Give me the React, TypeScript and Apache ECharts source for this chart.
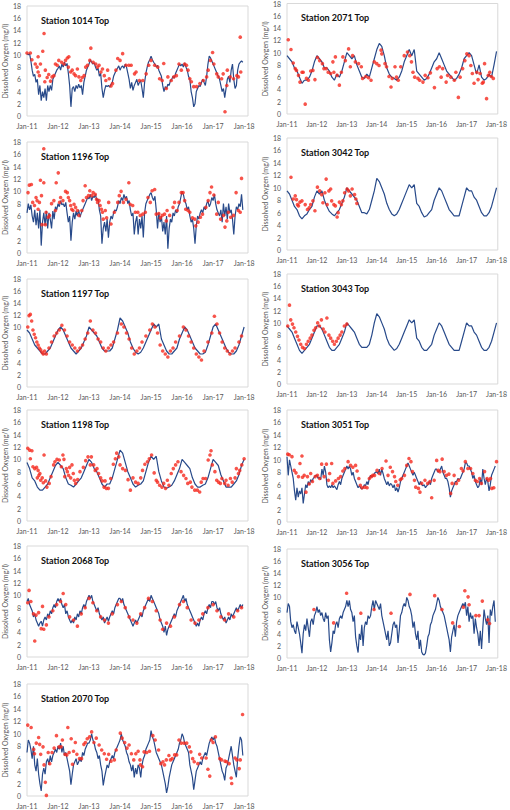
import React, { useEffect, useRef } from 'react';
import * as echarts from 'echarts';

// ---- Line series (semi-monthly: step 0.5 month; monthly: step 1), x = months since Jan-11 ----
const LINE_1014 = [
  10.2,10.0,10.2,9.0,7.5,6.5,6.8,5.5,6.0,3.5,5.0,2.5,4.0,3.0,4.5,2.5,5.0,4.0,5.0,4.2,6.0,6.5,7.0,7.5,
  7.8,8.2,7.5,8.5,8.0,8.8,8.2,8.6,7.0,5.0,1.5,4.5,4.8,4.0,5.0,4.5,5.2,4.6,5.0,3.5,5.5,6.5,7.5,8.0,
  8.5,9.2,8.8,8.5,8.7,8.0,7.5,7.8,6.5,7.0,4.5,3.0,4.2,5.0,4.8,5.0,4.7,5.2,5.5,6.5,7.0,7.5,7.8,8.2,
  7.5,8.0,8.2,7.8,8.5,8.0,7.0,6.0,4.5,5.5,4.2,5.0,5.5,6.0,5.0,5.5,5.8,4.5,3.0,5.5,7.0,8.0,8.8,9.2,
  9.8,9.2,8.8,8.5,8.0,8.3,7.5,7.0,6.5,5.0,4.0,4.8,4.5,5.2,5.0,5.8,6.0,6.5,6.2,7.0,7.5,8.0,8.5,8.2,
  8.5,8.0,8.7,8.0,7.5,6.5,6.0,4.0,3.0,1.5,2.0,4.0,4.5,5.0,4.8,5.5,6.0,5.5,5.0,6.5,8.5,9.8,9.5,9.0,
  8.5,8.0,7.5,7.0,6.5,6.0,5.0,4.0,4.5,3.0,4.5,6.0,6.5,5.5,7.5,8.5,6.0,4.5,5.0,7.5,8.5,8.8,9.0,8.8,
];
const LINE_1196 = [
  6.5,8.0,7.0,7.8,6.0,5.0,7.0,4.5,6.5,4.0,7.0,1.2,5.0,6.5,4.5,6.8,4.0,6.5,5.5,4.0,6.8,5.5,7.5,7.0,
  8.0,7.5,8.5,7.8,8.0,7.5,8.2,6.5,5.0,6.0,2.0,5.0,6.5,5.5,6.8,6.0,7.0,5.8,6.5,7.0,7.5,8.0,8.5,9.0,
  8.8,9.5,8.5,9.2,9.0,9.5,8.5,8.8,7.0,6.0,1.5,4.0,5.0,3.5,5.5,2.5,5.0,6.0,5.5,6.5,7.0,6.8,7.5,8.5,
  8.0,9.0,8.5,9.5,8.8,9.2,8.0,8.5,7.0,6.0,6.5,3.0,5.0,6.0,3.0,5.5,4.0,6.0,2.5,6.5,8.0,8.5,9.0,9.5,
  9.8,9.0,8.5,9.2,7.0,4.0,6.5,5.0,6.0,3.5,5.0,3.0,6.0,0.7,4.0,5.5,5.0,6.5,6.0,7.0,6.5,7.5,8.0,9.0,
  10.0,9.5,8.5,8.0,7.0,7.5,6.0,5.0,5.5,4.0,1.5,4.5,6.0,5.5,6.5,7.0,6.5,7.5,7.0,8.0,8.5,7.5,8.0,9.0,
  8.5,9.5,8.0,7.0,6.5,6.0,7.0,5.0,8.0,6.0,7.5,5.5,8.0,6.5,7.0,5.5,3.0,6.0,7.5,7.0,8.0,7.5,9.5,7.0,
];
const LINE_1197 = [
  9.5,9.0,8.0,7.0,6.5,6.0,5.5,5.5,6.0,6.5,7.5,8.5,
  9.5,10.0,9.5,8.5,7.5,6.5,6.0,5.5,6.0,6.5,7.5,8.5,
  10.0,9.5,9.0,8.5,7.5,6.5,6.0,6.0,6.0,6.5,8.0,9.5,
  11.5,11.0,10.0,9.0,7.5,6.5,5.8,5.5,5.8,6.5,7.5,8.5,
  9.5,10.5,10.0,10.5,8.0,7.0,6.0,5.5,5.5,6.0,6.5,8.0,
  9.0,10.0,9.5,8.5,7.5,6.5,6.0,5.5,5.5,5.8,7.0,8.5,
  10.0,10.5,9.5,8.5,7.5,6.5,5.8,5.5,5.5,6.0,7.0,8.5,
  10.0,
];
const LINE_1198 = [
  9.5,8.5,7.0,6.5,5.5,5.0,5.0,5.5,6.0,7.0,8.0,9.0,
  9.5,9.0,8.5,7.0,6.0,5.8,5.5,6.0,6.5,7.0,8.0,9.0,
  10.0,9.5,8.5,8.0,7.0,6.0,5.5,6.0,6.0,7.0,8.5,10.0,
  11.5,11.0,9.5,8.0,7.0,6.0,5.5,5.8,6.0,6.5,8.0,9.5,
  10.5,10.0,10.5,8.0,6.5,5.5,5.3,5.5,5.8,6.5,7.5,8.5,
  10.0,9.5,9.0,8.5,7.0,6.0,5.5,5.5,5.8,6.0,7.0,8.5,
  10.0,9.5,9.0,7.5,6.5,5.5,5.5,5.5,6.0,6.5,7.5,9.0,
  10.0,
];
const LINE_2068 = [
  9.0,9.5,8.5,8.0,7.5,6.5,7.0,6.0,5.5,5.0,5.5,5.8,5.0,6.0,6.5,6.0,7.0,6.5,7.5,7.0,8.0,8.5,8.0,9.0,
  9.5,9.0,9.5,8.5,8.0,8.5,7.0,7.5,6.5,6.0,5.5,6.0,5.5,6.5,6.0,7.0,6.5,7.5,7.0,8.0,8.5,8.0,9.0,9.5,
  10.0,9.5,10.0,9.0,8.5,8.0,7.5,8.0,7.0,6.5,6.0,6.5,5.5,6.0,6.5,5.8,6.5,7.0,7.5,7.0,8.0,8.5,9.0,9.5,
  9.5,9.0,9.5,8.5,8.0,7.5,7.0,6.5,6.0,5.5,5.0,5.5,6.0,5.5,6.0,6.5,7.0,6.5,7.5,8.0,8.5,9.0,9.5,9.0,
  10.0,9.5,9.0,8.5,8.0,7.5,7.0,6.0,5.5,5.0,4.0,5.0,3.5,4.5,5.0,5.5,6.0,6.5,7.0,6.5,7.5,8.0,8.5,9.0,
  9.5,10.0,9.0,9.5,8.5,8.0,7.5,7.0,6.5,6.0,5.5,5.0,5.5,5.0,6.0,6.5,6.0,7.0,7.5,7.0,8.0,8.5,8.0,9.0,
  9.0,8.5,9.0,8.0,7.5,8.0,7.0,6.5,6.0,6.5,5.5,6.0,6.5,6.0,7.0,6.5,7.0,7.5,8.0,7.5,8.0,8.5,8.0,8.5,
];
const LINE_2070 = [
  7.0,9.0,8.5,7.5,6.0,8.0,5.0,4.0,6.0,3.5,2.0,0.8,3.5,4.5,3.5,5.5,6.0,5.0,6.5,5.5,6.5,7.0,7.5,7.0,
  8.0,7.5,8.5,7.0,8.0,6.5,7.0,6.0,5.0,4.0,1.8,3.5,5.0,5.5,6.0,5.0,5.5,6.0,5.5,7.0,6.5,7.5,8.0,8.5,
  8.5,9.0,10.0,9.0,8.5,7.5,7.0,6.0,6.5,5.0,4.0,1.7,3.0,4.0,5.0,4.5,5.5,6.0,6.5,6.0,7.0,7.5,8.0,8.5,
  9.0,10.0,9.0,8.5,8.0,7.0,6.5,5.5,5.0,4.0,5.0,3.0,4.5,3.5,5.0,4.5,3.0,5.0,6.0,6.5,7.5,8.0,8.5,9.0,
  10.5,9.5,9.0,8.0,7.0,6.5,6.0,5.5,5.0,4.0,3.0,2.0,0.5,1.5,3.0,4.0,5.0,5.5,6.0,6.5,7.0,7.5,8.5,9.0,
  10.0,9.5,8.5,8.0,7.5,7.0,5.0,4.0,3.0,1.0,2.5,4.0,4.5,5.0,5.5,5.0,6.0,6.5,7.0,6.5,7.5,8.5,9.0,9.5,
  9.0,9.5,8.5,8.0,7.0,6.0,5.0,4.0,3.5,2.5,4.5,5.0,6.0,7.0,8.0,6.5,5.0,4.0,3.0,6.0,8.0,9.5,9.0,6.5,
];
const LINE_2071 = [
  9.5,9.0,8.5,7.5,7.0,6.0,5.0,5.5,5.5,6.0,7.0,8.5,
  9.5,9.0,8.5,7.5,7.5,7.0,6.0,5.5,6.5,6.0,7.0,8.5,
  10.0,9.5,9.0,9.5,8.0,7.0,6.0,5.8,6.5,6.0,7.5,9.0,
  10.5,11.5,11.0,9.5,7.5,6.5,6.0,5.8,5.5,6.0,7.0,8.5,
  9.5,10.5,9.5,10.5,7.0,6.5,6.0,5.5,5.8,6.5,7.5,8.5,
  9.0,10.0,9.0,8.0,7.0,6.5,6.0,5.5,5.8,6.5,7.5,9.0,
  9.5,10.0,9.5,8.0,6.5,8.0,6.0,5.5,5.8,6.5,6.0,8.0,
  10.2,
];
const LINE_3042 = [
  9.5,9.0,8.0,7.0,6.5,5.5,5.0,5.5,5.8,6.5,7.0,8.5,
  9.5,9.0,9.5,8.0,7.0,6.2,5.8,5.5,6.0,6.5,7.5,8.5,
  10.0,9.5,9.0,8.5,8.0,7.0,6.0,6.0,5.8,6.5,8.0,9.5,
  11.5,11.0,10.0,9.0,7.5,6.5,5.8,5.5,5.8,6.5,7.5,8.5,
  9.5,10.5,10.0,10.5,7.5,7.0,6.0,5.3,5.5,6.0,6.5,8.0,
  9.0,10.0,9.5,8.5,7.5,6.5,6.0,5.5,5.5,5.5,7.0,8.5,
  10.0,9.5,9.5,8.5,8.0,7.0,6.0,5.5,5.5,6.0,7.0,8.5,
  10.0,
];
const LINE_3043 = [
  9.5,9.0,8.5,7.5,6.5,5.5,5.0,5.5,6.0,6.5,7.5,8.5,
  9.5,9.5,9.0,8.0,7.0,6.0,5.5,5.5,6.0,6.5,7.5,8.5,
  10.0,9.5,9.0,8.5,7.5,6.5,6.0,6.0,6.0,6.5,8.0,10.0,
  11.5,11.0,10.0,9.0,7.5,6.5,6.0,5.5,5.8,6.5,7.5,8.5,
  9.5,10.5,10.0,10.5,7.5,7.0,6.0,5.5,5.5,6.0,6.5,8.0,
  9.0,10.0,9.5,8.5,7.5,6.5,6.0,5.5,5.5,5.5,7.0,8.5,
  10.0,9.5,9.5,8.5,8.0,7.0,6.0,5.5,5.5,6.0,7.0,8.5,
  10.0,
];
const LINE_3051 = [
  10.5,7.5,10.0,9.0,8.0,7.0,5.0,3.5,5.5,4.0,5.0,4.5,5.5,3.0,4.5,6.0,5.5,6.5,6.0,6.8,6.5,7.0,7.2,7.5,
  7.5,7.0,7.2,6.8,8.5,7.5,9.0,8.0,6.0,5.5,5.8,5.5,6.0,5.5,5.8,5.5,5.2,6.0,6.5,6.0,7.0,7.5,8.0,8.5,
  9.0,8.5,9.0,8.5,7.5,8.0,7.0,6.5,6.0,5.5,5.8,5.5,5.3,5.5,6.0,5.8,6.5,6.0,7.0,7.5,7.2,7.5,7.8,8.0,
  8.0,7.8,8.5,7.5,8.5,7.8,7.0,6.5,6.0,6.5,5.8,6.2,6.0,5.5,6.0,5.0,5.5,4.8,5.5,6.5,7.0,7.5,8.0,8.5,
  9.0,9.5,9.0,8.5,8.0,7.5,8.0,7.5,7.0,6.5,6.0,6.5,6.0,5.8,6.0,5.5,5.8,6.0,6.5,6.0,7.0,7.5,8.0,8.5,
  8.5,8.0,8.2,8.5,9.0,8.0,7.5,7.0,7.0,6.5,5.5,4.0,5.0,5.5,6.0,6.5,6.5,7.0,6.8,7.0,7.5,8.0,8.5,9.5,
  9.5,9.0,9.0,8.5,8.0,7.0,7.5,6.5,6.0,5.5,5.8,7.0,6.0,8.5,7.0,6.0,7.0,6.5,5.0,6.0,7.5,8.0,8.5,9.0,
];
const LINE_3056 = [
  7.5,9.0,8.5,6.0,5.0,5.5,4.5,4.0,6.0,5.0,4.0,2.5,0.8,4.0,5.5,4.5,6.5,5.0,3.5,6.0,6.5,5.5,7.0,7.5,
  8.5,7.5,8.0,7.0,7.5,6.5,6.0,7.5,6.5,7.0,3.0,1.0,2.5,4.5,4.0,5.5,6.0,5.0,6.5,7.0,6.5,7.5,8.0,8.5,
  9.5,8.5,9.5,8.0,7.5,6.0,7.0,3.5,2.0,0.9,4.0,3.0,5.5,2.0,5.0,6.0,5.5,7.0,6.5,7.0,8.5,9.5,8.0,9.5,
  9.0,8.5,8.0,9.0,7.0,6.0,5.0,4.0,3.0,4.5,2.0,2.5,4.0,5.5,6.0,5.0,5.5,2.5,4.5,7.0,7.5,8.5,9.0,8.5,
  10.0,9.5,8.5,8.0,7.0,5.0,6.0,4.0,3.0,4.5,1.5,3.0,1.0,0.6,0.5,0.8,2.0,3.5,4.0,5.5,6.0,7.0,7.5,8.0,
  9.0,10.0,9.5,8.5,8.0,7.5,7.0,6.0,5.0,4.0,3.0,1.0,3.5,4.5,5.5,3.5,6.0,7.0,7.5,8.0,8.5,9.0,8.5,9.2,
  7.0,8.5,6.0,7.5,6.5,7.0,4.0,6.5,5.0,4.0,2.0,4.5,1.5,5.0,8.0,6.5,5.5,7.0,2.5,8.0,7.0,8.5,9.5,6.0,
];

// ---- Red measured points: [months since Jan-11, mg/l] ----
const DOTS_1014 = [[0,10.3],[1.3,10.3],[1.9,9.2],[3.2,8.5],[3.9,8.0],[4.3,7.2],[4.8,6.6],[5.2,8.5],[4.3,9.7],[6.1,10.6],[6.6,13.5],[7.1,7.5],[6.9,5.6],[7.8,6.3],[8.4,6.8],[9.1,5.7],[9.7,6.4],[10.4,6.6],[11,8.5],[11.7,8.3],[12.3,9.1],[13.4,8.8],[14.3,8.5],[14.9,9.1],[15.6,9.5],[16.2,9.7],[16,8.0],[16.9,7.2],[17.5,7.5],[18.2,6.9],[18.8,6.6],[19.5,7.7],[20.1,6.4],[20.8,5.8],[21.4,6.3],[22.1,6.6],[22.7,8.0],[23.4,8.3],[24.3,9.1],[24.7,11.1],[25.6,8.8],[26.6,8.5],[27.3,8.0],[27.9,8.3],[28.6,7.2],[29.2,7.7],[29.9,6.6],[30.5,5.8],[31.2,7.5],[31.8,6.1],[32.5,4.9],[33.1,5.3],[34.4,7.5],[35.1,9.4],[36,9.1],[37,10.2],[38.3,8.3],[39.4,8.3],[40.3,8.3],[41.6,6.9],[42.2,7.2],[43.5,5.8],[44.8,5.8],[46.1,6.9],[47.1,8.3],[48,9.1],[49.4,8.3],[50.6,8.0],[51.3,6.1],[52.3,5.8],[52.9,8.6],[53.9,4.5],[54.5,6.4],[55.8,5.8],[56.8,6.4],[57.8,6.6],[58.8,8.5],[59.7,7.5],[61,8.5],[61.7,8.3],[62.3,7.5],[63,6.1],[63.6,5.6],[64.5,4.8],[65.6,4.8],[66.9,5.3],[68.2,5.8],[69.5,6.4],[70.1,7.5],[71,9.1],[71.8,10.4],[72.3,8.5],[73.4,6.9],[74,6.4],[75.3,6.1],[75.9,6.9],[76.6,0.7],[77.3,5.0],[77.5,7.5],[78.6,6.4],[79.9,6.1],[81.2,6.6],[81.8,6.4],[82.5,12.9],[82.7,7.2]];
const DOTS_2071 = [[0.5,12.1],[1.6,10.5],[2.5,8.3],[3.3,7.4],[3.8,7.1],[4.6,6.3],[5.2,5.2],[6,6.8],[6.5,6.8],[7.3,1.6],[7.8,5.8],[8.6,5.5],[9.5,7.0],[10.4,7.1],[11.2,5.6],[12.2,9.2],[13.1,8.7],[14.2,8.2],[14.8,7.4],[15.7,7.4],[16.5,6.8],[17.5,6.6],[18.4,8.5],[18.8,6.8],[19.4,9.3],[20.1,6.3],[21,4.7],[21.8,6.8],[22.4,9.3],[23.4,8.7],[24.7,10.6],[25.4,7.7],[26.3,9.5],[27.4,8.5],[28.7,8.2],[29.8,7.7],[30.3,5.8],[31.6,6.1],[32.7,5.9],[33.7,5.5],[35,8.5],[36,8.2],[36.9,7.9],[37.7,10.4],[38,9.8],[39.3,8.2],[39.9,7.7],[40.9,6.1],[41.7,4.4],[42.2,5.8],[43.3,7.7],[43.9,6.0],[44.6,5.5],[45.6,7.7],[47,9.5],[48.3,10.1],[49.2,9.5],[49.9,8.5],[50.5,6.8],[51.2,6.0],[52.5,5.8],[53.2,5.5],[54.5,5.2],[55.4,6.3],[56.5,5.9],[57.5,6.7],[59.1,4.3],[60.2,7.4],[61.1,7.7],[61.8,6.0],[62.4,7.4],[63.8,5.2],[64.4,6.3],[65.7,6.0],[67.1,5.5],[67.7,6.8],[68.7,2.7],[69.4,6.0],[70.4,7.4],[71.3,8.7],[72.1,9.8],[73,9.5],[73.7,7.9],[74.3,6.6],[75,5.0],[76.1,6.8],[76.6,5.6],[77.4,6.6],[78.3,5.0],[78.7,5.2],[79.2,8.2],[80,2.5],[80.7,6.3],[81.3,6.8],[81.9,6.1],[82.7,5.8]];
const DOTS_1196 = [[0.4,9.8],[0.9,11.0],[1.7,11.1],[2.2,8.2],[2.9,7.7],[3.5,9.0],[3.9,8.5],[4.3,7.1],[4.8,8.2],[5.2,11.8],[5.6,9.3],[5.8,4.6],[6.5,11.4],[6.5,16.9],[7.1,4.6],[7.4,6.6],[8.2,5.8],[8.7,6.1],[9.5,8.0],[10.4,8.5],[11,6.9],[11.3,11.4],[12.1,13.0],[12.6,8.2],[13,9.0],[13.9,8.5],[14.9,10.0],[15.6,9.8],[16,9.0],[16.5,8.5],[16.9,7.7],[17.3,7.1],[17.8,6.9],[18.2,7.9],[18.8,7.4],[19.5,6.9],[20.1,6.1],[21.2,6.9],[21.7,8.5],[22.5,10.9],[23,9.0],[23.8,9.3],[24.3,10.1],[25.1,9.3],[25.6,9.8],[26.4,9.5],[26.9,8.7],[27.3,8.2],[27.9,8.5],[28.3,7.7],[28.8,7.1],[29.2,6.6],[29.5,5.5],[30.3,6.9],[30.8,5.7],[31.6,8.2],[32.5,4.7],[33.8,6.6],[35.1,8.2],[35.7,9.3],[36.4,10.0],[37.3,8.2],[38.3,8.7],[39.4,11.4],[39.9,7.9],[40.9,7.7],[41.9,6.6],[42.9,6.6],[43.8,6.1],[44.8,6.3],[45.8,6.6],[46.8,9.0],[47.7,8.2],[48.4,10.1],[49.4,10.3],[50,6.3],[51,6.4],[51.6,5.7],[52.3,6.1],[53.2,6.3],[53.9,5.2],[54.2,6.9],[55.2,6.1],[56.5,7.4],[57.1,8.2],[58.1,6.9],[58.8,8.2],[59.7,9.8],[60.4,9.8],[61,8.5],[61.4,7.1],[62.3,6.9],[63,6.6],[64,5.7],[64.9,5.5],[65.3,4.4],[66.2,5.0],[67.1,5.8],[67.9,6.3],[69.2,7.4],[70.1,8.5],[70.8,9.8],[71.4,10.7],[72.3,9.4],[73.4,6.3],[74,8.2],[74.9,5.5],[76,6.1],[76.6,4.2],[77.3,5.2],[77.9,6.6],[78.8,5.8],[79.9,6.1],[80.9,9.8],[81.8,6.9],[82.5,6.6],[83,12.1]];
const DOTS_3042 = [[1.6,11.7],[2.5,8.2],[3.3,8.7],[3.8,8.1],[4.2,7.3],[4.6,7.1],[5.2,7.7],[6,7.9],[7.3,7.3],[8.2,6.5],[8.9,6.8],[9.5,7.3],[10.4,7.9],[11.2,6.3],[12.2,10.1],[13.1,9.5],[13.9,8.9],[14.4,7.6],[15.2,9.2],[15.7,11.4],[16.1,7.3],[16.8,9.5],[17.5,9.8],[17.9,7.9],[18.8,7.3],[19.4,7.1],[20.1,5.3],[20.5,6.0],[21,7.7],[21.8,7.3],[22.4,7.9],[23.1,9.2],[24.1,9.8],[24.7,9.5],[25.4,8.7],[26.1,9.8],[27.1,8.9],[27.6,8.2],[28,7.5]];
const DOTS_1197 = [[0.3,10.0],[0.8,11.9],[1.3,12.1],[1.8,11.0],[2.3,9.5],[2.8,8.8],[3.3,8.2],[3.8,7.5],[4.3,7.0],[4.8,6.5],[5.3,6.2],[5.8,5.8],[6.3,5.5],[6.8,6.0],[7.5,5.5],[8.5,6.5],[9.5,7.5],[10.5,8.5],[11.5,9.0],[12.5,9.5],[13.5,10.3],[14.5,9.5],[15.5,8.5],[16.5,7.5],[17.5,7.0],[18.5,6.5],[19.5,6.0],[20.5,6.5],[21.5,7.0],[22.5,8.0],[23.5,9.0],[24.5,11.0],[25.5,9.5],[26.5,9.0],[27.5,8.0],[28.5,7.5],[29.5,6.5],[30.5,6.0],[31.5,6.5],[32.5,7.0],[33.5,7.5],[35,9.0],[36.5,10.5],[37.5,10.0],[38.5,9.0],[39.5,8.0],[40.5,6.5],[41.5,5.5],[42.5,6.0],[43.5,6.5],[44.5,7.5],[46,8.5],[47.5,9.5],[48.5,10.5],[49.5,10.0],[50.5,9.0],[51.5,7.0],[52.5,6.0],[53.5,5.5],[54.5,5.0],[55.5,6.0],[56.5,6.5],[57.5,7.5],[59,8.5],[60.5,10.0],[61.5,9.5],[62.5,8.5],[63.5,7.5],[64.5,6.5],[65.5,5.5],[66.5,5.0],[67.5,4.5],[68.5,6.0],[70,7.5],[71.5,9.0],[72.5,11.8],[73.5,10.5],[74.5,9.0],[75.5,7.5],[76.5,6.5],[77.5,6.0],[78.5,5.5],[79.5,6.0],[80.5,6.5],[82,7.5],[83,8.5]];
const DOTS_3043 = [[0.3,9.5],[1.0,12.9],[1.5,10.5],[2.2,9.8],[2.8,9.2],[3.5,8.5],[4.2,7.8],[4.8,7.2],[5.5,6.5],[6.2,6.0],[7.0,5.8],[7.8,6.5],[8.5,7.0],[9.3,7.5],[10.0,8.0],[10.8,8.8],[11.5,9.2],[12.3,10.0],[13.0,9.5],[13.8,10.5],[14.5,9.0],[15.2,8.5],[16.0,10.8],[16.8,8.0],[17.5,7.5],[18.3,7.0],[19.0,6.5],[19.8,7.0],[20.5,7.5],[21.3,8.0],[22.0,8.5],[23.0,9.5],[24.0,9.8]];
const DOTS_1198 = [[0.3,11.8],[1.0,11.5],[1.9,11.4],[1.3,10.1],[2.3,8.8],[3.0,8.5],[3.7,8.7],[4.3,8.2],[4.6,7.4],[4.0,7.0],[5.0,7.7],[5.3,6.6],[5.9,7.0],[6.3,6.2],[6.6,10.7],[7.2,6.5],[7.7,5.5],[8.6,6.1],[9.3,7.2],[10.3,9.1],[10.8,9.6],[11.6,10.0],[12.5,9.9],[13.3,8.8],[13.9,10.7],[14.3,10.0],[14.6,7.2],[15.2,8.5],[15.6,8.0],[16.1,7.4],[16.5,8.7],[16.9,7.0],[17.4,9.1],[17.9,7.7],[18.3,6.6],[18.8,6.1],[19.6,6.7],[20.5,8.0],[21.8,8.7],[22.7,9.8],[23.6,10.4],[24.5,9.1],[24.9,10.4],[25.8,9.1],[26.4,8.2],[27.1,8.5],[27.7,7.7],[28.5,7.0],[29.1,6.5],[29.8,5.5],[30.2,6.5],[30.7,5.3],[31.5,5.3],[32.4,6.9],[33.4,9.2],[34.2,10.1],[34.7,11.0],[35.5,10.4],[36.0,9.1],[37.0,8.5],[38.1,8.2],[39.1,6.7],[40.0,5.0],[41.0,7.0],[42.0,6.3],[43.0,6.1],[44.0,7.0],[44.7,8.2],[45.6,9.2],[46.6,9.6],[47.3,10.1],[48.2,10.7],[49.2,7.8],[50.0,6.6],[50.5,6.3],[51.3,5.8],[52.2,5.5],[52.9,6.1],[53.6,5.3],[54.3,6.6],[54.9,5.8],[55.8,7.7],[56.6,8.5],[57.5,9.1],[58.4,9.6],[59.6,8.0],[60.6,7.4],[61.5,6.9],[62.2,6.1],[63.2,6.3],[63.8,5.5],[64.9,5.0],[65.9,5.0],[66.8,4.7],[67.4,6.3],[68.1,6.9],[69.1,6.9],[70.1,9.9],[70.8,10.7],[71.2,11.4],[71.7,9.1],[72.7,8.0],[73.4,6.6],[74.1,6.3],[74.8,6.1],[75.4,6.9],[76.5,6.1],[77.0,6.6],[77.8,5.8],[78.7,6.9],[79.4,6.3],[80.5,7.0],[81.0,8.5],[81.8,7.7],[82.3,8.2],[83.1,9.1],[84.0,10.1]];
const DOTS_3051 = [[0.3,10.9],[0.9,10.8],[2,10.5],[2.9,8.3],[3.6,7.9],[4.6,7.3],[5.2,9.4],[6,10.6],[6.2,7.2],[6.9,7.5],[7.6,4.8],[8.2,7.3],[8.9,6.1],[9.5,7.8],[10.2,6.5],[11.3,7.3],[12.2,7.5],[13.1,7.0],[13.9,9.3],[14.9,7.3],[15.8,9.3],[16.6,6.7],[17.1,7.8],[17.9,9.4],[18.4,6.2],[19.5,6.6],[20.6,7.0],[21.5,7.3],[22.4,8.2],[23.2,8.6],[24.5,9.7],[25.5,9.1],[26.4,8.8],[27.5,9.1],[28.1,8.2],[28.8,7.0],[29.4,5.9],[30.1,5.5],[31.2,5.6],[32.1,5.5],[33,7.0],[33.8,7.3],[34.4,7.5],[35.1,7.5],[36.1,8.3],[37,7.8],[38.1,8.6],[39.7,9.8],[40.5,7.5],[41.4,8.8],[42.3,8.1],[43.1,7.3],[43.6,6.5],[44.4,5.9],[45.4,6.8],[46,7.0],[47.1,7.5],[48,9.1],[48.9,10.2],[49.7,9.7],[50.3,8.1],[51.1,6.7],[51.6,5.6],[52.7,5.4],[53.3,4.8],[54,6.2],[55.3,6.7],[56.4,6.2],[57.3,6.5],[58,3.9],[59,6.7],[60,9.9],[60.6,8.3],[61.3,8.1],[62.2,10.1],[63,8.1],[63.9,7.5],[64.9,7.7],[65.6,4.6],[66.2,6.2],[67,7.5],[67.9,6.2],[68.8,6.7],[69.9,8.6],[70.6,8.2],[71.5,9.7],[72.5,8.6],[73.6,8.6],[74.5,7.8],[75.5,6.7],[76.3,6.5],[77.2,7.0],[77.9,6.2],[79.2,8.1],[80.2,7.0],[80.8,6.7],[81.6,7.0],[82.1,5.4],[82.9,5.5],[84,9.7]];
const DOTS_2068 = [[0.3,8.8],[0.8,10.8],[1.5,9.0],[2.5,7.0],[3,2.6],[3.5,6.8],[4.5,7.2],[5.5,4.6],[6,8.2],[6.5,4.5],[7.5,5.2],[8.5,6.5],[10,7.5],[11.5,8.5],[13,9.0],[14,10.3],[15,8.5],[16.5,6.5],[18,6.0],[19.5,5.0],[21,7.0],[22.5,8.0],[24,9.5],[25.5,8.8],[27,7.5],[28.5,6.5],[30,6.0],[31.5,5.5],[33,7.0],[35,8.5],[36.5,9.0],[38,8.0],[39.5,6.5],[41,6.0],[42.5,5.5],[44,7.0],[45.5,8.0],[47,9.5],[48.5,9.0],[50,7.5],[51.5,6.0],[52.5,4.5],[54,5.5],[55.5,5.0],[57,6.5],[59,8.5],[60.5,9.0],[62,8.0],[63.5,6.0],[65,5.5],[66.5,6.0],[68,7.0],[70,8.0],[72,8.5],[73.5,7.5],[75,6.5],[76.5,6.0],[78,7.0],[80,6.5],[81.5,7.5],[83,8.0]];
const DOTS_3056 = [[10.8,8.0],[18.7,5.8],[23.9,10.7],[29.6,7.4],[34.9,8.0],[41.7,7.4],[49.3,10.5],[59.2,10.3],[62.1,8.0],[66.4,5.8],[69.1,5.2],[70.7,8.4],[71.3,11.1],[72.6,10.1],[73,8.8],[75.7,7.0],[77,7.0],[78.3,9.4],[80.5,6.3],[81.2,5.7]];
const DOTS_2070 = [[0.3,11.4],[1.6,11.0],[2.6,7.5],[2.9,6.8],[3.6,8.5],[4.5,9.4],[4.9,8.3],[5.3,6.7],[6.2,7.9],[6.6,5.0],[7.1,2.2],[7.5,0.1],[8.2,7.0],[8.8,5.2],[9.7,7.0],[10.5,7.7],[11.4,9.7],[12.4,7.9],[13.2,7.9],[13.7,9.0],[14.7,6.7],[15.4,6.6],[15.8,11.0],[16.3,7.0],[17.1,9.2],[17.6,5.1],[18,7.2],[18.7,8.6],[19.3,6.7],[20.3,6.0],[21.1,6.0],[22,8.3],[22.6,8.6],[23.3,9.2],[24.2,9.5],[25,10.3],[25.9,8.6],[26.8,9.3],[27.9,8.2],[28.9,7.4],[29.9,6.8],[30.8,5.9],[31.6,6.7],[32.5,5.6],[33.8,5.8],[34.5,7.4],[36.1,10.1],[36.8,9.3],[37.8,8.6],[38.7,7.7],[39.5,8.2],[40.4,6.8],[41.3,5.8],[42.1,6.8],[43,7.2],[43.7,5.8],[43.9,5.0],[44.7,4.7],[45.3,7.1],[46.3,7.0],[47.4,7.2],[48.7,9.7],[49.6,9.0],[50.9,7.4],[51.8,5.2],[52.6,5.5],[53.2,5.0],[53.9,5.8],[54.9,6.5],[55.5,5.8],[56.2,6.0],[57.1,6.6],[57.9,6.6],[58.8,9.0],[59.7,8.5],[60.8,8.5],[61.8,8.5],[62.8,7.9],[63.4,7.1],[64.1,6.0],[64.7,5.5],[66.1,5.2],[66.8,6.7],[67.6,6.1],[69.3,6.1],[70,4.3],[70.7,3.2],[71.3,9.0],[72,8.6],[72.9,9.5],[74.6,6.0],[75.3,5.8],[76.6,5.6],[77.2,5.5],[78.2,5.2],[79,2.9],[79.2,2.0],[80.5,6.1],[81.2,5.8],[82.1,4.4],[82.5,5.8],[83.4,13.1]];

const Y_TITLE = 'Dissolved Oxygen (mg/l)';
const X_LABEL_YEARS = ['Jan-11','Jan-12','Jan-13','Jan-14','Jan-15','Jan-16','Jan-17','Jan-18'];

const PANELS = [
  { title: 'Station 1014 Top', line: LINE_1014, step: 0.5, dots: DOTS_1014 },
  { title: 'Station 1196 Top', line: LINE_1196, step: 0.5, dots: DOTS_1196 },
  { title: 'Station 1197 Top', line: LINE_1197, step: 1, dots: DOTS_1197 },
  { title: 'Station 1198 Top', line: LINE_1198, step: 1, dots: DOTS_1198 },
  { title: 'Station 2068 Top', line: LINE_2068, step: 0.5, dots: DOTS_2068 },
  { title: 'Station 2070 Top', line: LINE_2070, step: 0.5, dots: DOTS_2070 },
  { title: 'Station 2071 Top', line: LINE_2071, step: 1, dots: DOTS_2071 },
  { title: 'Station 3042 Top', line: LINE_3042, step: 1, dots: DOTS_3042 },
  { title: 'Station 3043 Top', line: LINE_3043, step: 1, dots: DOTS_3043 },
  { title: 'Station 3051 Top', line: LINE_3051, step: 0.5, dots: DOTS_3051 },
  { title: 'Station 3056 Top', line: LINE_3056, step: 0.5, dots: DOTS_3056 },
];

// layout (px)
const LAYOUT = [
  { col: 0, top: 6, height: 110 },
  { col: 0, top: 142, height: 111 },
  { col: 0, top: 279, height: 108 },
  { col: 0, top: 410, height: 111 },
  { col: 0, top: 546, height: 111 },
  { col: 0, top: 684, height: 112 },
  { col: 1, top: 3, height: 111 },
  { col: 1, top: 138, height: 112 },
  { col: 1, top: 274, height: 110 },
  { col: 1, top: 410, height: 112 },
  { col: 1, top: 549, height: 109 },
];
const COLS = [
  { left: 27, width: 221, xmax: 85.5 },
  { left: 287, width: 214, xmax: 84.5 },
];

export default function App() {
  const ref = useRef<HTMLDivElement>(null);
  useEffect(() => {
    document.body.style.margin = '0';
    const chart = echarts.init(ref.current as HTMLDivElement, null, { renderer: 'svg' });
    const grids: any[] = [];
    const xAxes: any[] = [];
    const yAxes: any[] = [];
    const series: any[] = [];
    const graphics: any[] = [];
    PANELS.forEach((p, i) => {
      const L = LAYOUT[i];
      const C = COLS[L.col];
      grids.push({
        left: C.left, top: L.top, width: C.width, height: L.height,
        show: true, borderColor: '#d9d9d9', borderWidth: 1, backgroundColor: '#ffffff',
      });
      xAxes.push({
        type: 'value', gridIndex: i, min: 0, max: C.xmax, interval: 12,
        axisLine: { show: false }, axisTick: { show: false }, splitLine: { show: false },
        axisLabel: {
          fontSize: 7, color: '#595959', margin: 6, showMaxLabel: true,
          formatter: (v: number) => (v % 12 === 0 && v <= 84 ? X_LABEL_YEARS[v / 12] : ''),
        },
      });
      yAxes.push({
        type: 'value', gridIndex: i, min: 0, max: 18, interval: 2,
        name: Y_TITLE, nameLocation: 'middle', nameGap: 17, nameRotate: 90,
        nameTextStyle: { fontSize: 7, color: '#595959' },
        axisLine: { show: false }, axisTick: { show: false }, splitLine: { show: false },
        axisLabel: { fontSize: 7, color: '#595959', margin: 6 },
      });
      series.push({
        type: 'line', xAxisIndex: i, yAxisIndex: i, symbol: 'none', z: 2,
        data: p.line.map((v, j) => [j * p.step, v]),
        lineStyle: { color: '#284a8a', width: 1.2 },
      });
      series.push({
        type: 'scatter', xAxisIndex: i, yAxisIndex: i, z: 3,
        data: p.dots, symbolSize: 3.6,
        itemStyle: { color: '#f5291e' },
      });
      graphics.push({
        type: 'text', x: C.left + 14, y: L.top + 14, z: 10,
        style: {
          text: p.title, fontSize: 9, fontWeight: 'bold', fill: '#111',
          fontFamily: 'Lato, sans-serif', verticalAlign: 'middle',
        },
      });
    });
    chart.setOption({
      animation: false,
      backgroundColor: '#ffffff',
      textStyle: { fontFamily: 'Lato, sans-serif' },
      grid: grids,
      xAxis: xAxes,
      yAxis: yAxes,
      series,
      graphic: graphics,
    });
    return () => chart.dispose();
  }, []);
  return <div ref={ref} style={{ width: 510, height: 810 }} />;
}
